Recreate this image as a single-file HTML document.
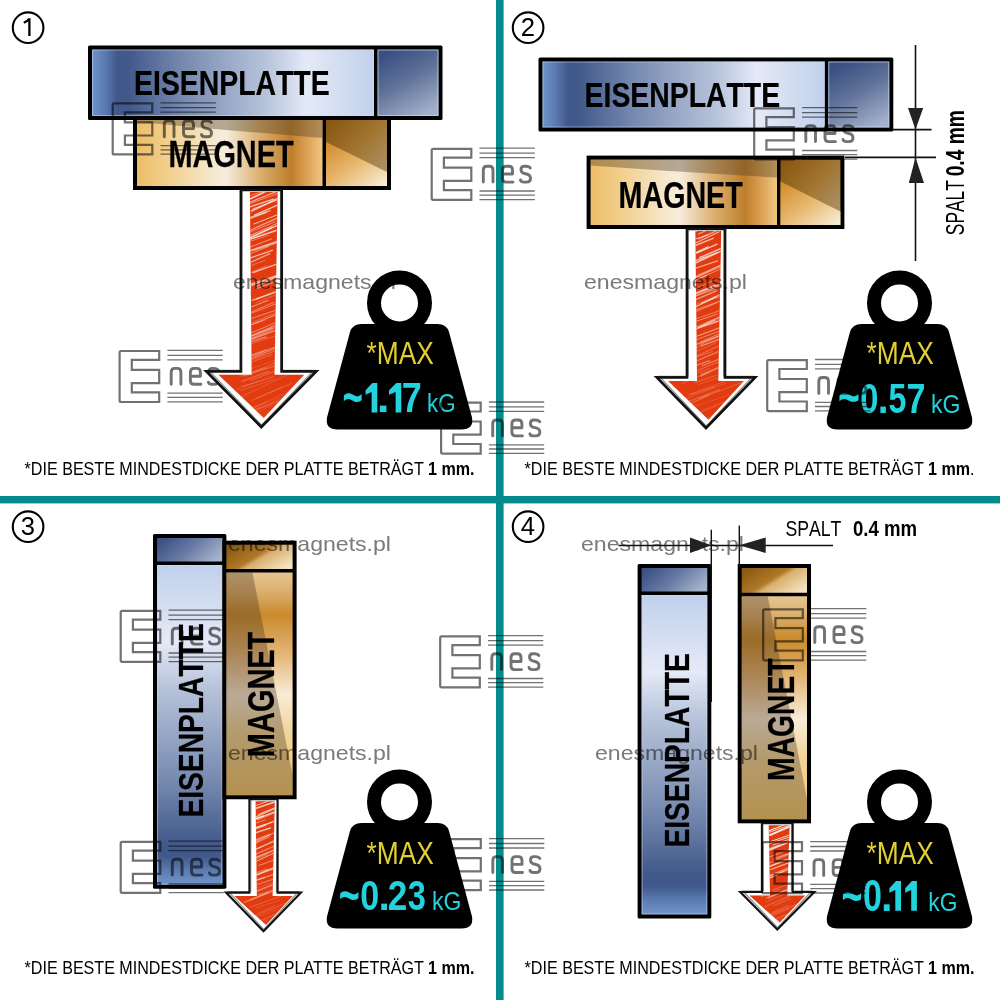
<!DOCTYPE html>
<html><head><meta charset="utf-8"><style>html,body{margin:0;padding:0;background:#fff;}svg{display:block;}</style></head>
<body><svg width="1000" height="1000" viewBox="0 0 1000 1000">
<defs><linearGradient id="plH" x1="0" y1="0" x2="1" y2="0"><stop offset="0" stop-color="#7095cb"/><stop offset="0.045" stop-color="#5b7bb2"/><stop offset="0.09" stop-color="#40588a"/><stop offset="0.13" stop-color="#42598a"/><stop offset="0.32" stop-color="#7589af"/><stop offset="0.62" stop-color="#b8c4db"/><stop offset="0.76" stop-color="#e4eaf7"/><stop offset="0.88" stop-color="#d3ddf0"/><stop offset="1" stop-color="#c0d0ec"/></linearGradient><linearGradient id="plV" x1="0" y1="1" x2="0" y2="0"><stop offset="0" stop-color="#7095cb"/><stop offset="0.045" stop-color="#5b7bb2"/><stop offset="0.09" stop-color="#40588a"/><stop offset="0.13" stop-color="#42598a"/><stop offset="0.32" stop-color="#7589af"/><stop offset="0.62" stop-color="#b8c4db"/><stop offset="0.76" stop-color="#e4eaf7"/><stop offset="0.88" stop-color="#d3ddf0"/><stop offset="1" stop-color="#c0d0ec"/></linearGradient><linearGradient id="peH" x1="0.25" y1="0" x2="0.75" y2="1"><stop offset="0" stop-color="#394f82"/><stop offset="0.45" stop-color="#5f7198"/><stop offset="1" stop-color="#a3b1cb"/></linearGradient><linearGradient id="peV" x1="0" y1="0.3" x2="1" y2="0.7"><stop offset="0" stop-color="#3a5286"/><stop offset="0.5" stop-color="#6a7ca4"/><stop offset="1" stop-color="#a6b4ce"/></linearGradient><linearGradient id="mgH" x1="0" y1="0" x2="1" y2="0"><stop offset="0" stop-color="#ecbd6a"/><stop offset="0.16" stop-color="#f2ce8b"/><stop offset="0.43" stop-color="#f6ead4"/><stop offset="0.48" stop-color="#f7ecdc"/><stop offset="0.66" stop-color="#dcb070"/><stop offset="0.83" stop-color="#be7e2c"/><stop offset="0.9" stop-color="#d79a4c"/><stop offset="1" stop-color="#f1c682"/></linearGradient><linearGradient id="mgV" x1="0" y1="0" x2="0" y2="1"><stop offset="0" stop-color="#e4c690"/><stop offset="0.08" stop-color="#dcb070"/><stop offset="0.19" stop-color="#c98a2c"/><stop offset="0.36" stop-color="#e2b474"/><stop offset="0.55" stop-color="#f8ecd8"/><stop offset="0.72" stop-color="#f0d49a"/><stop offset="1" stop-color="#f0c66a"/></linearGradient><linearGradient id="meH" x1="0" y1="0" x2="1" y2="1"><stop offset="0" stop-color="#86540f"/><stop offset="0.45" stop-color="#a0742e"/><stop offset="1" stop-color="#b09a78"/></linearGradient><linearGradient id="meH2" x1="0" y1="0" x2="1" y2="1"><stop offset="0" stop-color="#d08a28"/><stop offset="0.5" stop-color="#e8b870"/><stop offset="1" stop-color="#faf0dc"/></linearGradient><linearGradient id="meV" x1="0" y1="0.2" x2="1" y2="0.8"><stop offset="0" stop-color="#8a5a14"/><stop offset="0.45" stop-color="#b07828"/><stop offset="0.55" stop-color="#d8b070"/><stop offset="1" stop-color="#f6e4c0"/></linearGradient><pattern id="hatch" width="30" height="9" patternUnits="userSpaceOnUse" patternTransform="rotate(-22)"><rect width="30" height="9" fill="#e23c12"/><line x1="0" y1="1.5" x2="30" y2="1.5" stroke="#fff" stroke-opacity="0.6" stroke-width="1.3"/><line x1="4" y1="5.5" x2="22" y2="5.5" stroke="#fff" stroke-opacity="0.35" stroke-width="0.8"/></pattern></defs>
<rect x="0.00" y="0.00" width="1000.00" height="1000.00" fill="#fff"/>
<rect x="496.00" y="0.00" width="7.60" height="1000.00" fill="#048b8b"/>
<rect x="0.00" y="496.00" width="1000.00" height="7.40" fill="#048b8b"/>
<circle cx="28.1" cy="27.7" r="15.3" fill="none" stroke="#000" stroke-width="2.1"/><path d="M29.4,36 V18.3 M29.4,18.6 Q27.5,21.3 23.8,22.8" fill="none" stroke="#000" stroke-width="2.3"/>
<circle cx="528.1" cy="27.7" r="15.3" fill="none" stroke="#000" stroke-width="2.1"/><text x="527.9" y="35.9" font-family="Liberation Sans" font-size="25.6" font-weight="normal" fill="#000" text-anchor="middle">2</text>
<circle cx="28.1" cy="526.7" r="15.3" fill="none" stroke="#000" stroke-width="2.1"/><text x="27.9" y="534.9" font-family="Liberation Sans" font-size="25.6" font-weight="normal" fill="#000" text-anchor="middle">3</text>
<circle cx="528.1" cy="526.7" r="15.3" fill="none" stroke="#000" stroke-width="2.1"/><text x="527.9" y="534.9" font-family="Liberation Sans" font-size="25.6" font-weight="normal" fill="#000" text-anchor="middle">4</text>
<rect x="88.00" y="45.50" width="354.50" height="74.50" fill="#000" rx="1.5"/><rect x="92.00" y="49.50" width="282.00" height="66.50" fill="url(#plH)"/><rect x="377.50" y="49.50" width="61.00" height="66.50" fill="url(#peH)"/><rect x="378.00" y="50.00" width="60.00" height="65.50" fill="none" stroke="#c9d8f2" stroke-opacity="0.7" stroke-width="1"/><rect x="92.50" y="50.00" width="281.00" height="65.50" fill="none" stroke="#d0ddf5" stroke-opacity="0.5" stroke-width="1"/>
<rect x="133.00" y="116.00" width="258.00" height="74.00" fill="#000"/><rect x="137.00" y="120.00" width="185.50" height="66.00" fill="url(#mgH)"/><polygon points="137,120 322.5,120 322.5,138 212,128.72 137,122" fill="#4a3a22" fill-opacity="0.38"/><rect x="326.00" y="120.00" width="61.00" height="66.00" fill="url(#meH)"/><polygon points="326.0,142 387,172 387,186 326.0,186" fill="url(#meH2)"/>
<rect x="538.50" y="57.50" width="354.80" height="74.00" fill="#000" rx="1.5"/><rect x="542.50" y="61.50" width="282.25" height="66.00" fill="url(#plH)"/><rect x="828.25" y="61.50" width="61.05" height="66.00" fill="url(#peH)"/><rect x="828.75" y="62.00" width="60.05" height="65.00" fill="none" stroke="#c9d8f2" stroke-opacity="0.7" stroke-width="1"/><rect x="543.00" y="62.00" width="281.25" height="65.00" fill="none" stroke="#d0ddf5" stroke-opacity="0.5" stroke-width="1"/>
<rect x="586.60" y="155.60" width="257.80" height="73.40" fill="#000"/><rect x="590.60" y="159.60" width="186.40" height="65.40" fill="url(#mgH)"/><polygon points="590.6,159.6 777.0,159.6 777.0,177.6 665.6,170.64 590.6,165.6" fill="#4a3a22" fill-opacity="0.38"/><rect x="780.50" y="159.60" width="59.90" height="65.40" fill="url(#meH)"/><polygon points="780.5,181.6 840.4,211.6 840.4,225 780.5,225" fill="url(#meH2)"/>
<rect x="153.00" y="534.00" width="73.40" height="354.75" fill="#000" rx="1.5"/><rect x="157.00" y="538.00" width="65.40" height="23.50" fill="url(#peV)"/><rect x="157.00" y="565.00" width="65.40" height="319.75" fill="url(#plV)"/><rect x="157.50" y="565.50" width="64.40" height="318.75" fill="none" stroke="#d0ddf5" stroke-opacity="0.5" stroke-width="1"/>
<rect x="222.40" y="540.70" width="74.20" height="258.55" fill="#000"/><rect x="226.40" y="572.50" width="66.20" height="222.75" fill="url(#mgV)"/><polygon points="226.4,572.5 252.4,572.5 292.6,775.25 292.6,795.25 226.4,795.25" fill="#4a3520" fill-opacity="0.36"/><rect x="226.40" y="544.70" width="66.20" height="24.30" fill="url(#meV)"/>
<rect x="637.60" y="564.00" width="73.70" height="354.40" fill="#000" rx="1.5"/><rect x="641.60" y="568.00" width="65.70" height="23.50" fill="url(#peV)"/><rect x="641.60" y="595.00" width="65.70" height="319.40" fill="url(#plV)"/><rect x="642.10" y="595.50" width="64.70" height="318.40" fill="none" stroke="#d0ddf5" stroke-opacity="0.5" stroke-width="1"/>
<rect x="737.70" y="564.00" width="73.30" height="259.30" fill="#000"/><rect x="741.70" y="596.25" width="65.30" height="223.05" fill="url(#mgV)"/><polygon points="741.7,596.25 767.7,596.25 807,799.3 807,819.3 741.7,819.3" fill="#4a3520" fill-opacity="0.36"/><rect x="741.70" y="568.00" width="65.30" height="24.75" fill="url(#meV)"/>
<g transform="translate(118.9,350.2)" fill="none" stroke="#727272" style="mix-blend-mode:multiply"><path d="M0.7,2.3 Q0.7,0.8 2.2,0.8 H40.3 V9.7 H12.9 V19.7 H40.3 V32.9 H12.9 V42.2 H40.3 V51.8 H2.2 Q0.7,51.8 0.7,50.3 Z" stroke-width="2.2"/><line x1="48.5" y1="0.2" x2="103.8" y2="0.2" stroke-width="1.3"/><line x1="48.5" y1="5.1" x2="103.8" y2="5.1" stroke-width="1.3"/><line x1="48.5" y1="9.6" x2="103.8" y2="9.6" stroke-width="1.3"/><line x1="48.5" y1="43.0" x2="103.8" y2="43.0" stroke-width="1.3"/><line x1="48.5" y1="47.2" x2="103.8" y2="47.2" stroke-width="1.3"/><line x1="48.5" y1="51.6" x2="103.8" y2="51.6" stroke-width="1.3"/><path d="M52.3,34.1 V22 Q52.3,18.2 56,18.2 H58.3 Q62,18.2 62,22 V34.1" stroke-width="2.9" stroke-linecap="round"/><path d="M82,34.1 H75 Q71.5,34.1 71.5,30.5 V22 Q71.5,18.2 75.3,18.2 H77.8 Q81.5,18.2 81.5,22 V26 H71.5" stroke-width="2.9" stroke-linecap="round" stroke-linejoin="round"/><path d="M99.3,20 Q98.3,18.2 95,18.2 H93.3 Q90,18.2 90,21.6 Q90,25.2 94.5,25.8 Q99.5,26.5 99.5,30.3 Q99.5,34.1 95.3,34.1 H93 Q90,34.1 89.5,32" stroke-width="2.9" stroke-linecap="round" stroke-linejoin="round"/></g>
<g transform="translate(134.102,94.5) scale(0.7971,1)"><text x="0" y="0" font-family="Liberation Sans" font-size="35.6" font-weight="bold" fill="#000" style="font-kerning:none" stroke="#000" stroke-width="0.25">EISENPLATTE</text></g>
<g transform="translate(168.466,166.8) scale(0.7963,1)"><text x="0" y="0" font-family="Liberation Sans" font-size="36.3" font-weight="bold" fill="#000" style="font-kerning:none" stroke="#000" stroke-width="0.25">MAGNET</text></g>
<g transform="translate(584.602,107) scale(0.7971,1)"><text x="0" y="0" font-family="Liberation Sans" font-size="35.6" font-weight="bold" fill="#000" style="font-kerning:none" stroke="#000" stroke-width="0.25">EISENPLATTE</text></g>
<g transform="translate(618.582,208) scale(0.7898,1)"><text x="0" y="0" font-family="Liberation Sans" font-size="36.3" font-weight="bold" fill="#000" style="font-kerning:none" stroke="#000" stroke-width="0.25">MAGNET</text></g>
<g transform="translate(203,815.7) rotate(-90) translate(-1.887,0) scale(0.7925,1)"><text x="0" y="0" font-family="Liberation Sans" font-size="35.6" font-weight="bold" fill="#000" style="font-kerning:none" stroke="#000" stroke-width="0.25">EISENPLATTE</text></g>
<g transform="translate(274.4,755.2) rotate(-90) translate(-1.937,0) scale(0.7976,1)"><text x="0" y="0" font-family="Liberation Sans" font-size="36.3" font-weight="bold" fill="#000" style="font-kerning:none" stroke="#000" stroke-width="0.25">MAGNET</text></g>
<g transform="translate(688.5,845.7) rotate(-90) translate(-1.887,0) scale(0.7925,1)"><text x="0" y="0" font-family="Liberation Sans" font-size="35.6" font-weight="bold" fill="#000" style="font-kerning:none" stroke="#000" stroke-width="0.25">EISENPLATTE</text></g>
<g transform="translate(794.1,779) rotate(-90) translate(-1.891,0) scale(0.7788,1)"><text x="0" y="0" font-family="Liberation Sans" font-size="36.3" font-weight="bold" fill="#000" style="font-kerning:none" stroke="#000" stroke-width="0.25">MAGNET</text></g>
<polygon points="240.9,190 281.7,190 281.7,371.3 316.3,371.3 261.3,427 206.3,371.3 240.9,371.3" fill="#fff" stroke="#111" stroke-width="2.7" stroke-linejoin="miter"/><polyline points="242.02383276483317,190 241.55084917392452,370.1 208.8,370.3 261.6,425.2 313.8,370.3 280.95093447303987,370.1 280.4724362866675,190" fill="none" stroke="#222" stroke-width="1.1" stroke-opacity="0.55"/><clipPath id="ac1"><polygon points="249.876,192 277.6608,192 274.5192,374.8 304.18240000000003,374.8 263.8,418.024 218.41760000000002,374.8 251.6712,374.8"/></clipPath><polygon points="249.876,192 277.6608,192 274.5192,374.8 304.18240000000003,374.8 263.8,418.024 218.41760000000002,374.8 251.6712,374.8" fill="#e23b10"/><g clip-path="url(#ac1)" stroke="#fff" stroke-linecap="round"><line x1="237.1" y1="191.4" x2="272.0" y2="180.0" stroke-width="0.97" stroke-opacity="0.76"/><line x1="245.0" y1="197.5" x2="289.0" y2="182.6" stroke-width="0.69" stroke-opacity="0.58"/><line x1="248.2" y1="199.8" x2="279.9" y2="184.6" stroke-width="1.55" stroke-opacity="0.78"/><line x1="239.0" y1="195.0" x2="262.7" y2="186.3" stroke-width="0.89" stroke-opacity="0.86"/><line x1="249.5" y1="202.5" x2="280.6" y2="189.8" stroke-width="1.18" stroke-opacity="0.61"/><line x1="250.4" y1="203.5" x2="283.0" y2="191.5" stroke-width="0.81" stroke-opacity="0.56"/><line x1="252.8" y1="208.9" x2="293.2" y2="194.4" stroke-width="0.90" stroke-opacity="0.69"/><line x1="251.5" y1="211.0" x2="280.1" y2="197.4" stroke-width="1.48" stroke-opacity="0.71"/><line x1="239.1" y1="210.4" x2="273.5" y2="199.2" stroke-width="1.36" stroke-opacity="0.67"/><line x1="254.6" y1="215.0" x2="283.9" y2="202.3" stroke-width="1.17" stroke-opacity="0.78"/><line x1="253.8" y1="224.1" x2="301.2" y2="205.3" stroke-width="1.06" stroke-opacity="0.70"/><line x1="249.7" y1="230.5" x2="298.5" y2="208.5" stroke-width="1.30" stroke-opacity="0.52"/><line x1="236.4" y1="222.3" x2="270.0" y2="210.7" stroke-width="1.27" stroke-opacity="0.62"/><line x1="238.7" y1="223.0" x2="266.1" y2="212.5" stroke-width="1.37" stroke-opacity="0.51"/><line x1="247.6" y1="236.7" x2="293.2" y2="216.2" stroke-width="1.05" stroke-opacity="0.51"/><line x1="243.5" y1="241.4" x2="289.2" y2="219.8" stroke-width="1.02" stroke-opacity="0.56"/><line x1="240.9" y1="235.9" x2="275.1" y2="221.7" stroke-width="0.83" stroke-opacity="0.53"/><line x1="243.8" y1="241.1" x2="280.3" y2="223.8" stroke-width="1.02" stroke-opacity="0.47"/><line x1="250.3" y1="237.3" x2="272.3" y2="227.1" stroke-width="1.22" stroke-opacity="0.62"/><line x1="244.3" y1="241.2" x2="276.1" y2="230.5" stroke-width="1.40" stroke-opacity="0.72"/><line x1="240.4" y1="243.0" x2="265.4" y2="233.6" stroke-width="0.67" stroke-opacity="0.46"/><line x1="238.1" y1="245.2" x2="268.8" y2="235.2" stroke-width="0.75" stroke-opacity="0.44"/><line x1="241.3" y1="250.4" x2="271.6" y2="238.9" stroke-width="0.75" stroke-opacity="0.61"/><line x1="245.8" y1="252.2" x2="280.1" y2="240.7" stroke-width="1.59" stroke-opacity="0.67"/><line x1="253.6" y1="250.6" x2="278.6" y2="242.5" stroke-width="0.86" stroke-opacity="0.52"/><line x1="247.5" y1="254.9" x2="268.7" y2="246.4" stroke-width="0.75" stroke-opacity="0.57"/><line x1="241.5" y1="261.0" x2="272.3" y2="250.3" stroke-width="1.30" stroke-opacity="0.65"/><line x1="242.9" y1="265.8" x2="269.7" y2="253.7" stroke-width="1.38" stroke-opacity="0.55"/><line x1="253.3" y1="272.5" x2="294.9" y2="257.7" stroke-width="1.41" stroke-opacity="0.62"/><line x1="236.5" y1="270.8" x2="264.9" y2="260.5" stroke-width="0.63" stroke-opacity="0.48"/><line x1="255.9" y1="286.7" x2="304.5" y2="263.7" stroke-width="1.05" stroke-opacity="0.62"/><line x1="240.1" y1="277.2" x2="266.3" y2="266.1" stroke-width="0.83" stroke-opacity="0.43"/><line x1="249.8" y1="284.3" x2="293.1" y2="269.9" stroke-width="1.08" stroke-opacity="0.57"/><line x1="251.9" y1="284.9" x2="285.9" y2="273.0" stroke-width="1.38" stroke-opacity="0.58"/><line x1="256.6" y1="288.7" x2="288.3" y2="276.5" stroke-width="1.40" stroke-opacity="0.43"/><line x1="238.6" y1="291.9" x2="263.3" y2="280.4" stroke-width="0.77" stroke-opacity="0.51"/><line x1="256.8" y1="298.6" x2="296.0" y2="283.9" stroke-width="1.43" stroke-opacity="0.37"/><line x1="256.6" y1="302.5" x2="295.6" y2="286.8" stroke-width="0.61" stroke-opacity="0.36"/><line x1="253.5" y1="300.1" x2="279.9" y2="290.6" stroke-width="1.47" stroke-opacity="0.42"/><line x1="241.4" y1="303.9" x2="273.8" y2="292.8" stroke-width="1.19" stroke-opacity="0.37"/><line x1="248.3" y1="314.5" x2="294.6" y2="296.6" stroke-width="1.06" stroke-opacity="0.38"/><line x1="247.1" y1="308.6" x2="268.0" y2="300.4" stroke-width="1.13" stroke-opacity="0.40"/><line x1="239.6" y1="317.2" x2="273.5" y2="302.4" stroke-width="1.40" stroke-opacity="0.30"/><line x1="247.7" y1="319.7" x2="290.5" y2="305.3" stroke-width="1.12" stroke-opacity="0.36"/><line x1="252.4" y1="322.5" x2="287.3" y2="308.2" stroke-width="0.88" stroke-opacity="0.33"/><line x1="249.0" y1="325.6" x2="283.8" y2="311.6" stroke-width="1.04" stroke-opacity="0.45"/><line x1="246.1" y1="335.2" x2="293.4" y2="314.8" stroke-width="1.13" stroke-opacity="0.35"/><line x1="247.8" y1="340.0" x2="295.2" y2="318.5" stroke-width="0.86" stroke-opacity="0.43"/><line x1="237.4" y1="329.4" x2="264.7" y2="320.3" stroke-width="1.04" stroke-opacity="0.28"/><line x1="239.2" y1="340.9" x2="280.0" y2="323.5" stroke-width="1.50" stroke-opacity="0.38"/><line x1="240.6" y1="343.6" x2="288.2" y2="325.4" stroke-width="1.57" stroke-opacity="0.40"/><line x1="239.3" y1="341.2" x2="272.1" y2="328.1" stroke-width="1.43" stroke-opacity="0.40"/><line x1="251.3" y1="339.0" x2="272.3" y2="330.4" stroke-width="0.92" stroke-opacity="0.27"/><line x1="249.2" y1="344.6" x2="284.2" y2="333.0" stroke-width="0.93" stroke-opacity="0.24"/><line x1="238.1" y1="346.1" x2="266.1" y2="337.0" stroke-width="1.57" stroke-opacity="0.34"/><line x1="244.9" y1="361.4" x2="291.3" y2="340.4" stroke-width="0.73" stroke-opacity="0.26"/><line x1="248.1" y1="356.1" x2="288.5" y2="342.6" stroke-width="1.52" stroke-opacity="0.23"/><line x1="237.4" y1="364.1" x2="284.6" y2="344.2" stroke-width="1.03" stroke-opacity="0.30"/><line x1="237.3" y1="365.4" x2="282.4" y2="347.7" stroke-width="1.46" stroke-opacity="0.21"/><line x1="241.6" y1="359.8" x2="265.7" y2="350.1" stroke-width="1.53" stroke-opacity="0.27"/><line x1="237.0" y1="361.8" x2="263.1" y2="352.2" stroke-width="0.76" stroke-opacity="0.20"/><line x1="246.6" y1="364.0" x2="272.0" y2="354.4" stroke-width="0.89" stroke-opacity="0.28"/><line x1="251.5" y1="368.6" x2="287.7" y2="356.0" stroke-width="0.62" stroke-opacity="0.21"/><line x1="253.4" y1="371.7" x2="286.1" y2="358.7" stroke-width="0.71" stroke-opacity="0.29"/><line x1="250.6" y1="380.4" x2="299.0" y2="362.2" stroke-width="1.11" stroke-opacity="0.21"/><line x1="244.5" y1="375.8" x2="274.9" y2="365.8" stroke-width="1.24" stroke-opacity="0.24"/><line x1="241.3" y1="376.0" x2="266.4" y2="367.7" stroke-width="1.34" stroke-opacity="0.17"/><line x1="241.9" y1="381.3" x2="269.2" y2="371.3" stroke-width="1.27" stroke-opacity="0.24"/><line x1="241.5" y1="396.7" x2="289.4" y2="373.9" stroke-width="1.05" stroke-opacity="0.16"/><line x1="242.5" y1="386.6" x2="273.1" y2="376.8" stroke-width="1.57" stroke-opacity="0.16"/><line x1="240.2" y1="390.4" x2="275.0" y2="379.2" stroke-width="1.10" stroke-opacity="0.17"/><line x1="236.8" y1="389.1" x2="257.8" y2="381.4" stroke-width="1.00" stroke-opacity="0.14"/><line x1="251.9" y1="400.5" x2="291.1" y2="383.5" stroke-width="1.13" stroke-opacity="0.17"/><line x1="256.9" y1="397.9" x2="281.6" y2="387.2" stroke-width="0.93" stroke-opacity="0.15"/><line x1="254.9" y1="407.0" x2="293.2" y2="390.3" stroke-width="1.44" stroke-opacity="0.11"/><line x1="246.7" y1="413.7" x2="290.9" y2="393.8" stroke-width="1.12" stroke-opacity="0.11"/><line x1="250.5" y1="411.7" x2="290.7" y2="397.4" stroke-width="1.49" stroke-opacity="0.13"/><line x1="238.1" y1="417.1" x2="282.4" y2="399.0" stroke-width="0.96" stroke-opacity="0.10"/><line x1="246.3" y1="411.2" x2="266.8" y2="402.0" stroke-width="1.28" stroke-opacity="0.12"/><line x1="250.0" y1="415.1" x2="272.2" y2="405.4" stroke-width="1.14" stroke-opacity="0.10"/><line x1="251.4" y1="419.0" x2="277.7" y2="407.5" stroke-width="0.87" stroke-opacity="0.08"/><line x1="246.1" y1="429.1" x2="286.0" y2="411.5" stroke-width="0.98" stroke-opacity="0.10"/><line x1="239.0" y1="426.6" x2="266.7" y2="414.5" stroke-width="0.68" stroke-opacity="0.10"/><line x1="237.2" y1="428.8" x2="265.3" y2="416.8" stroke-width="0.61" stroke-opacity="0.10"/><line x1="246.9" y1="433.3" x2="280.6" y2="420.0" stroke-width="0.89" stroke-opacity="0.10"/><line x1="256.8" y1="437.0" x2="303.9" y2="421.8" stroke-width="0.80" stroke-opacity="0.11"/><line x1="245.5" y1="434.4" x2="273.6" y2="424.4" stroke-width="1.57" stroke-opacity="0.11"/></g>
<polygon points="687.0,229 725.0,229 725.0,377.4 755.2,377.4 706,428 656.8,377.4 687.0,377.4" fill="#fff" stroke="#111" stroke-width="2.7" stroke-linejoin="miter"/><polyline points="688.0107087975339,229 688.0814723677211,376.2 659.3,376.4 706.3,426.2 752.7,376.4 723.7417406778595,376.2 724.2240657125549,229" fill="none" stroke="#222" stroke-width="1.1" stroke-opacity="0.55"/><clipPath id="ac2"><polygon points="695.36,231 721.238,231 718.312,380.9 743.9140000000001,380.9 708.5,419.64 668.0859999999999,380.9 697.032,380.9"/></clipPath><polygon points="695.36,231 721.238,231 718.312,380.9 743.9140000000001,380.9 708.5,419.64 668.0859999999999,380.9 697.032,380.9" fill="#e23b10"/><g clip-path="url(#ac2)" stroke="#fff" stroke-linecap="round"><line x1="698.6" y1="234.0" x2="731.1" y2="219.0" stroke-width="0.73" stroke-opacity="0.92"/><line x1="691.8" y1="228.6" x2="711.5" y2="222.3" stroke-width="1.50" stroke-opacity="0.64"/><line x1="684.8" y1="235.4" x2="713.0" y2="225.0" stroke-width="0.90" stroke-opacity="0.72"/><line x1="699.0" y1="239.0" x2="721.1" y2="228.6" stroke-width="1.35" stroke-opacity="0.54"/><line x1="689.5" y1="246.0" x2="719.0" y2="231.9" stroke-width="0.89" stroke-opacity="0.85"/><line x1="687.6" y1="241.7" x2="707.8" y2="234.8" stroke-width="1.03" stroke-opacity="0.65"/><line x1="687.0" y1="248.9" x2="713.1" y2="238.4" stroke-width="1.54" stroke-opacity="0.61"/><line x1="699.9" y1="257.5" x2="740.5" y2="240.4" stroke-width="1.56" stroke-opacity="0.64"/><line x1="696.5" y1="253.1" x2="716.9" y2="244.2" stroke-width="1.15" stroke-opacity="0.82"/><line x1="687.8" y1="256.3" x2="708.1" y2="246.8" stroke-width="1.24" stroke-opacity="0.74"/><line x1="688.0" y1="267.0" x2="726.7" y2="248.6" stroke-width="0.94" stroke-opacity="0.64"/><line x1="693.3" y1="261.0" x2="722.7" y2="250.8" stroke-width="0.90" stroke-opacity="0.70"/><line x1="692.0" y1="264.2" x2="716.9" y2="252.7" stroke-width="1.51" stroke-opacity="0.55"/><line x1="685.9" y1="264.7" x2="707.3" y2="256.7" stroke-width="0.74" stroke-opacity="0.61"/><line x1="693.5" y1="277.1" x2="736.1" y2="258.4" stroke-width="0.86" stroke-opacity="0.54"/><line x1="689.6" y1="270.2" x2="717.6" y2="260.9" stroke-width="1.12" stroke-opacity="0.58"/><line x1="692.2" y1="279.5" x2="727.9" y2="263.1" stroke-width="0.73" stroke-opacity="0.74"/><line x1="690.1" y1="279.8" x2="720.9" y2="265.2" stroke-width="0.85" stroke-opacity="0.53"/><line x1="682.7" y1="286.3" x2="720.5" y2="268.8" stroke-width="0.62" stroke-opacity="0.69"/><line x1="689.9" y1="291.2" x2="733.6" y2="271.5" stroke-width="0.60" stroke-opacity="0.60"/><line x1="684.2" y1="284.4" x2="707.3" y2="275.1" stroke-width="0.85" stroke-opacity="0.70"/><line x1="695.1" y1="293.8" x2="734.4" y2="278.3" stroke-width="1.32" stroke-opacity="0.67"/><line x1="686.7" y1="299.6" x2="730.2" y2="281.2" stroke-width="1.38" stroke-opacity="0.42"/><line x1="694.9" y1="296.2" x2="732.4" y2="283.5" stroke-width="0.85" stroke-opacity="0.43"/><line x1="689.8" y1="295.5" x2="714.8" y2="285.1" stroke-width="1.18" stroke-opacity="0.53"/><line x1="701.4" y1="303.3" x2="737.5" y2="286.7" stroke-width="1.06" stroke-opacity="0.47"/><line x1="701.4" y1="303.3" x2="739.1" y2="289.4" stroke-width="0.85" stroke-opacity="0.45"/><line x1="690.5" y1="301.9" x2="716.3" y2="290.9" stroke-width="1.27" stroke-opacity="0.51"/><line x1="688.8" y1="307.7" x2="719.0" y2="294.7" stroke-width="0.63" stroke-opacity="0.43"/><line x1="692.2" y1="308.3" x2="716.7" y2="296.7" stroke-width="1.34" stroke-opacity="0.56"/><line x1="686.5" y1="313.4" x2="725.7" y2="299.0" stroke-width="0.83" stroke-opacity="0.56"/><line x1="686.5" y1="315.7" x2="716.6" y2="302.9" stroke-width="0.79" stroke-opacity="0.47"/><line x1="686.3" y1="322.1" x2="731.2" y2="306.7" stroke-width="0.99" stroke-opacity="0.37"/><line x1="700.1" y1="327.0" x2="742.6" y2="308.4" stroke-width="0.99" stroke-opacity="0.35"/><line x1="685.7" y1="331.7" x2="729.6" y2="312.4" stroke-width="0.93" stroke-opacity="0.53"/><line x1="689.6" y1="323.6" x2="717.4" y2="313.9" stroke-width="0.98" stroke-opacity="0.47"/><line x1="701.3" y1="326.0" x2="723.6" y2="315.5" stroke-width="0.95" stroke-opacity="0.38"/><line x1="698.6" y1="327.5" x2="729.1" y2="317.5" stroke-width="1.42" stroke-opacity="0.39"/><line x1="685.9" y1="333.5" x2="714.6" y2="320.2" stroke-width="1.52" stroke-opacity="0.38"/><line x1="697.5" y1="328.3" x2="717.6" y2="321.7" stroke-width="1.41" stroke-opacity="0.39"/><line x1="697.1" y1="339.4" x2="740.0" y2="323.4" stroke-width="0.86" stroke-opacity="0.48"/><line x1="687.3" y1="339.7" x2="725.4" y2="325.6" stroke-width="1.22" stroke-opacity="0.48"/><line x1="700.5" y1="344.6" x2="736.4" y2="327.8" stroke-width="1.36" stroke-opacity="0.29"/><line x1="701.3" y1="346.3" x2="745.7" y2="329.3" stroke-width="1.08" stroke-opacity="0.33"/><line x1="700.7" y1="342.1" x2="724.6" y2="331.4" stroke-width="1.09" stroke-opacity="0.36"/><line x1="694.3" y1="345.1" x2="722.0" y2="334.8" stroke-width="1.37" stroke-opacity="0.42"/><line x1="686.0" y1="351.2" x2="725.0" y2="337.2" stroke-width="0.68" stroke-opacity="0.40"/><line x1="688.6" y1="359.7" x2="733.7" y2="338.9" stroke-width="1.15" stroke-opacity="0.26"/><line x1="683.9" y1="356.8" x2="716.2" y2="342.8" stroke-width="0.68" stroke-opacity="0.29"/><line x1="694.5" y1="361.7" x2="731.5" y2="345.4" stroke-width="1.02" stroke-opacity="0.28"/><line x1="699.0" y1="360.1" x2="725.8" y2="349.1" stroke-width="0.72" stroke-opacity="0.34"/><line x1="687.0" y1="360.3" x2="712.5" y2="351.5" stroke-width="0.80" stroke-opacity="0.34"/><line x1="690.0" y1="373.4" x2="735.4" y2="355.2" stroke-width="0.93" stroke-opacity="0.30"/><line x1="702.0" y1="365.9" x2="723.7" y2="357.3" stroke-width="1.25" stroke-opacity="0.33"/><line x1="682.8" y1="369.9" x2="709.6" y2="360.8" stroke-width="1.51" stroke-opacity="0.32"/><line x1="700.8" y1="376.1" x2="729.7" y2="362.8" stroke-width="1.18" stroke-opacity="0.32"/><line x1="701.1" y1="374.5" x2="722.9" y2="365.4" stroke-width="1.38" stroke-opacity="0.22"/><line x1="684.9" y1="377.3" x2="709.3" y2="368.5" stroke-width="0.97" stroke-opacity="0.21"/><line x1="682.2" y1="383.4" x2="709.9" y2="371.5" stroke-width="0.80" stroke-opacity="0.25"/><line x1="698.1" y1="384.5" x2="731.6" y2="373.4" stroke-width="0.80" stroke-opacity="0.21"/><line x1="694.9" y1="382.6" x2="716.3" y2="375.2" stroke-width="1.15" stroke-opacity="0.21"/><line x1="688.2" y1="394.8" x2="732.6" y2="378.4" stroke-width="0.88" stroke-opacity="0.20"/><line x1="699.5" y1="398.6" x2="745.0" y2="381.3" stroke-width="1.02" stroke-opacity="0.19"/><line x1="682.1" y1="400.0" x2="725.1" y2="383.3" stroke-width="0.80" stroke-opacity="0.21"/><line x1="691.3" y1="394.4" x2="714.6" y2="386.9" stroke-width="1.48" stroke-opacity="0.17"/><line x1="683.8" y1="403.3" x2="719.3" y2="389.8" stroke-width="1.51" stroke-opacity="0.18"/><line x1="692.5" y1="407.3" x2="736.1" y2="392.5" stroke-width="0.88" stroke-opacity="0.13"/><line x1="686.0" y1="405.8" x2="708.4" y2="395.3" stroke-width="1.57" stroke-opacity="0.18"/><line x1="700.7" y1="412.8" x2="730.0" y2="399.2" stroke-width="0.65" stroke-opacity="0.14"/><line x1="697.9" y1="411.8" x2="722.8" y2="402.2" stroke-width="0.76" stroke-opacity="0.15"/><line x1="686.4" y1="417.8" x2="716.0" y2="405.9" stroke-width="0.78" stroke-opacity="0.13"/><line x1="696.6" y1="422.3" x2="739.5" y2="408.3" stroke-width="0.85" stroke-opacity="0.09"/><line x1="698.9" y1="420.4" x2="721.1" y2="411.2" stroke-width="0.64" stroke-opacity="0.11"/><line x1="690.5" y1="427.5" x2="725.0" y2="414.1" stroke-width="0.91" stroke-opacity="0.10"/><line x1="682.5" y1="431.4" x2="717.9" y2="417.3" stroke-width="1.04" stroke-opacity="0.09"/><line x1="691.3" y1="428.7" x2="715.0" y2="419.3" stroke-width="1.38" stroke-opacity="0.11"/><line x1="683.9" y1="433.5" x2="714.6" y2="421.1" stroke-width="1.03" stroke-opacity="0.08"/><line x1="696.8" y1="438.7" x2="736.5" y2="422.7" stroke-width="0.68" stroke-opacity="0.10"/><line x1="701.2" y1="434.7" x2="723.8" y2="424.3" stroke-width="0.98" stroke-opacity="0.10"/></g>
<polygon points="249.4,799.25 277.6,799.25 277.6,892.6 301.0,892.6 263.5,931.25 226.0,892.6 249.4,892.6" fill="#fff" stroke="#111" stroke-width="2.1" stroke-linejoin="miter"/><polyline points="250.93208439121062,799.25 250.7149894484102,891.4 228.5,891.6 263.8,929.45 298.5,891.6 276.39370730319337,891.4 277.28172809098436,799.25" fill="none" stroke="#222" stroke-width="1.1" stroke-opacity="0.55"/><clipPath id="ac3"><polygon points="255.604,801.25 274.8082,801.25 272.6368,896.1 292.6246,896.1 266.0,925.046 234.3754,896.1 256.8448,896.1"/></clipPath><polygon points="255.604,801.25 274.8082,801.25 272.6368,896.1 292.6246,896.1 266.0,925.046 234.3754,896.1 256.8448,896.1" fill="#e23b10"/><g clip-path="url(#ac3)" stroke="#fff" stroke-linecap="round"><line x1="259.3" y1="797.0" x2="276.7" y2="789.2" stroke-width="1.56" stroke-opacity="0.77"/><line x1="256.7" y1="801.1" x2="273.9" y2="793.1" stroke-width="0.95" stroke-opacity="0.59"/><line x1="252.6" y1="806.7" x2="284.8" y2="795.3" stroke-width="0.74" stroke-opacity="0.86"/><line x1="245.0" y1="803.5" x2="262.7" y2="797.4" stroke-width="0.92" stroke-opacity="0.73"/><line x1="247.1" y1="811.3" x2="276.7" y2="801.3" stroke-width="1.50" stroke-opacity="0.77"/><line x1="258.6" y1="814.4" x2="283.7" y2="804.1" stroke-width="0.96" stroke-opacity="0.74"/><line x1="254.7" y1="817.6" x2="276.5" y2="807.8" stroke-width="1.59" stroke-opacity="0.54"/><line x1="250.3" y1="821.4" x2="279.5" y2="810.0" stroke-width="1.18" stroke-opacity="0.83"/><line x1="257.7" y1="820.0" x2="276.9" y2="811.9" stroke-width="0.65" stroke-opacity="0.73"/><line x1="249.5" y1="820.5" x2="263.6" y2="815.9" stroke-width="1.26" stroke-opacity="0.66"/><line x1="252.7" y1="828.6" x2="284.5" y2="817.7" stroke-width="1.03" stroke-opacity="0.66"/><line x1="244.4" y1="826.9" x2="265.5" y2="819.8" stroke-width="0.62" stroke-opacity="0.66"/><line x1="254.0" y1="829.8" x2="272.1" y2="822.2" stroke-width="1.18" stroke-opacity="0.52"/><line x1="248.4" y1="830.6" x2="265.4" y2="824.9" stroke-width="1.54" stroke-opacity="0.48"/><line x1="250.9" y1="834.2" x2="270.3" y2="828.0" stroke-width="1.38" stroke-opacity="0.68"/><line x1="254.9" y1="841.8" x2="277.8" y2="831.1" stroke-width="0.95" stroke-opacity="0.57"/><line x1="245.1" y1="843.9" x2="269.7" y2="834.4" stroke-width="1.50" stroke-opacity="0.47"/><line x1="244.6" y1="848.3" x2="269.6" y2="836.5" stroke-width="1.38" stroke-opacity="0.41"/><line x1="252.7" y1="850.4" x2="279.4" y2="838.4" stroke-width="1.21" stroke-opacity="0.44"/><line x1="245.2" y1="854.4" x2="276.8" y2="840.3" stroke-width="0.90" stroke-opacity="0.46"/><line x1="256.5" y1="853.8" x2="279.8" y2="843.6" stroke-width="1.44" stroke-opacity="0.37"/><line x1="248.2" y1="851.8" x2="263.0" y2="846.2" stroke-width="0.71" stroke-opacity="0.41"/><line x1="256.0" y1="857.5" x2="275.3" y2="849.6" stroke-width="1.45" stroke-opacity="0.51"/><line x1="248.7" y1="864.9" x2="275.5" y2="852.2" stroke-width="1.12" stroke-opacity="0.51"/><line x1="248.6" y1="862.5" x2="267.4" y2="854.2" stroke-width="0.62" stroke-opacity="0.52"/><line x1="258.7" y1="865.5" x2="279.3" y2="858.1" stroke-width="0.93" stroke-opacity="0.47"/><line x1="255.2" y1="875.1" x2="288.7" y2="861.9" stroke-width="1.29" stroke-opacity="0.42"/><line x1="251.5" y1="877.1" x2="279.9" y2="865.5" stroke-width="1.46" stroke-opacity="0.42"/><line x1="245.7" y1="878.7" x2="277.7" y2="867.7" stroke-width="1.22" stroke-opacity="0.31"/><line x1="250.0" y1="874.8" x2="266.9" y2="869.3" stroke-width="1.53" stroke-opacity="0.29"/><line x1="255.7" y1="880.4" x2="284.4" y2="870.9" stroke-width="1.23" stroke-opacity="0.38"/><line x1="257.7" y1="884.4" x2="289.4" y2="873.9" stroke-width="1.42" stroke-opacity="0.31"/><line x1="246.1" y1="883.7" x2="264.3" y2="877.6" stroke-width="1.54" stroke-opacity="0.38"/><line x1="254.7" y1="891.9" x2="285.1" y2="879.1" stroke-width="1.41" stroke-opacity="0.36"/><line x1="256.7" y1="888.1" x2="274.9" y2="881.4" stroke-width="0.70" stroke-opacity="0.24"/><line x1="249.0" y1="894.6" x2="277.2" y2="883.9" stroke-width="0.86" stroke-opacity="0.22"/><line x1="258.3" y1="894.8" x2="284.6" y2="886.2" stroke-width="1.10" stroke-opacity="0.34"/><line x1="250.0" y1="900.1" x2="278.1" y2="888.8" stroke-width="1.37" stroke-opacity="0.25"/><line x1="257.7" y1="896.4" x2="275.2" y2="890.8" stroke-width="0.69" stroke-opacity="0.29"/><line x1="244.5" y1="902.3" x2="268.3" y2="892.8" stroke-width="1.58" stroke-opacity="0.27"/><line x1="250.1" y1="907.3" x2="280.6" y2="896.3" stroke-width="1.09" stroke-opacity="0.19"/><line x1="255.8" y1="908.2" x2="279.7" y2="900.1" stroke-width="0.81" stroke-opacity="0.18"/><line x1="255.7" y1="915.7" x2="285.4" y2="903.2" stroke-width="1.39" stroke-opacity="0.15"/><line x1="258.9" y1="912.9" x2="274.7" y2="905.6" stroke-width="0.99" stroke-opacity="0.16"/><line x1="259.1" y1="916.3" x2="283.1" y2="907.2" stroke-width="0.86" stroke-opacity="0.14"/><line x1="253.1" y1="923.7" x2="282.0" y2="910.9" stroke-width="1.06" stroke-opacity="0.13"/><line x1="246.9" y1="927.1" x2="277.7" y2="914.0" stroke-width="0.93" stroke-opacity="0.12"/><line x1="257.0" y1="926.1" x2="282.5" y2="917.4" stroke-width="1.04" stroke-opacity="0.09"/><line x1="247.5" y1="928.7" x2="267.6" y2="920.0" stroke-width="0.84" stroke-opacity="0.12"/><line x1="248.4" y1="931.9" x2="269.0" y2="923.6" stroke-width="0.76" stroke-opacity="0.08"/><line x1="260.3" y1="935.1" x2="288.8" y2="925.5" stroke-width="0.79" stroke-opacity="0.09"/><line x1="260.4" y1="942.5" x2="290.2" y2="929.4" stroke-width="0.98" stroke-opacity="0.08"/></g>
<polygon points="761.9,823.3 792.6999999999999,823.3 792.6999999999999,892 814.3499999999999,892 777.3,929.4 740.25,892 761.9,892" fill="#fff" stroke="#111" stroke-width="2.1" stroke-linejoin="miter"/><polyline points="762.8961909317171,823.3 763.0379808627919,890.8 742.75,891.0 777.5999999999999,927.6 811.8499999999999,891.0 791.4068697145641,890.8 791.6064439645801,823.3" fill="none" stroke="#222" stroke-width="1.1" stroke-opacity="0.55"/><clipPath id="ac4"><polygon points="768.6759999999999,825.3 789.6507999999999,825.3 787.2792,895.5 805.2023999999999,895.5 779.8,922.624 749.3976,895.5 770.0312,895.5"/></clipPath><polygon points="768.6759999999999,825.3 789.6507999999999,825.3 787.2792,895.5 805.2023999999999,895.5 779.8,922.624 749.3976,895.5 770.0312,895.5" fill="#e23b10"/><g clip-path="url(#ac4)" stroke="#fff" stroke-linecap="round"><line x1="763.8" y1="827.3" x2="796.3" y2="813.3" stroke-width="0.63" stroke-opacity="0.74"/><line x1="759.4" y1="827.0" x2="787.8" y2="816.1" stroke-width="1.06" stroke-opacity="0.82"/><line x1="766.8" y1="831.6" x2="798.4" y2="819.4" stroke-width="1.03" stroke-opacity="0.90"/><line x1="770.3" y1="835.4" x2="800.8" y2="821.5" stroke-width="1.48" stroke-opacity="0.81"/><line x1="762.3" y1="834.4" x2="791.3" y2="824.7" stroke-width="1.05" stroke-opacity="0.76"/><line x1="767.8" y1="835.3" x2="788.6" y2="827.2" stroke-width="1.31" stroke-opacity="0.79"/><line x1="768.6" y1="842.2" x2="804.1" y2="829.9" stroke-width="1.01" stroke-opacity="0.72"/><line x1="765.4" y1="844.9" x2="801.8" y2="833.0" stroke-width="0.99" stroke-opacity="0.75"/><line x1="773.2" y1="844.8" x2="799.8" y2="835.9" stroke-width="1.38" stroke-opacity="0.53"/><line x1="765.8" y1="852.0" x2="795.0" y2="838.8" stroke-width="1.32" stroke-opacity="0.63"/><line x1="760.5" y1="853.1" x2="790.7" y2="841.6" stroke-width="1.55" stroke-opacity="0.58"/><line x1="763.1" y1="851.1" x2="779.7" y2="845.0" stroke-width="1.58" stroke-opacity="0.47"/><line x1="764.2" y1="859.0" x2="794.6" y2="847.5" stroke-width="1.02" stroke-opacity="0.43"/><line x1="773.2" y1="859.2" x2="799.9" y2="849.7" stroke-width="1.34" stroke-opacity="0.48"/><line x1="759.1" y1="867.6" x2="791.3" y2="853.2" stroke-width="0.81" stroke-opacity="0.50"/><line x1="760.8" y1="869.9" x2="797.0" y2="856.3" stroke-width="1.16" stroke-opacity="0.50"/><line x1="765.0" y1="868.2" x2="786.8" y2="859.4" stroke-width="1.42" stroke-opacity="0.57"/><line x1="771.6" y1="869.2" x2="792.8" y2="861.2" stroke-width="0.95" stroke-opacity="0.56"/><line x1="756.9" y1="874.6" x2="787.9" y2="863.3" stroke-width="0.79" stroke-opacity="0.45"/><line x1="764.3" y1="877.8" x2="793.5" y2="865.4" stroke-width="1.08" stroke-opacity="0.41"/><line x1="757.9" y1="883.3" x2="791.1" y2="867.8" stroke-width="1.45" stroke-opacity="0.53"/><line x1="767.9" y1="876.3" x2="783.6" y2="871.3" stroke-width="1.43" stroke-opacity="0.34"/><line x1="758.7" y1="881.8" x2="777.1" y2="875.2" stroke-width="0.85" stroke-opacity="0.42"/><line x1="772.6" y1="889.9" x2="805.0" y2="878.6" stroke-width="0.75" stroke-opacity="0.34"/><line x1="768.5" y1="897.8" x2="803.2" y2="882.3" stroke-width="1.38" stroke-opacity="0.36"/><line x1="766.1" y1="898.2" x2="797.5" y2="885.9" stroke-width="1.29" stroke-opacity="0.27"/><line x1="761.0" y1="897.0" x2="779.4" y2="889.6" stroke-width="0.86" stroke-opacity="0.30"/><line x1="765.4" y1="901.9" x2="791.6" y2="891.3" stroke-width="0.74" stroke-opacity="0.28"/><line x1="765.0" y1="906.7" x2="792.5" y2="894.9" stroke-width="1.44" stroke-opacity="0.20"/><line x1="773.5" y1="905.7" x2="790.6" y2="898.5" stroke-width="1.02" stroke-opacity="0.22"/><line x1="768.7" y1="914.9" x2="804.2" y2="901.6" stroke-width="1.21" stroke-opacity="0.17"/><line x1="772.4" y1="912.6" x2="788.6" y2="905.6" stroke-width="1.08" stroke-opacity="0.19"/><line x1="763.2" y1="919.0" x2="788.9" y2="908.6" stroke-width="1.46" stroke-opacity="0.16"/><line x1="764.2" y1="924.4" x2="791.6" y2="912.1" stroke-width="1.04" stroke-opacity="0.13"/><line x1="765.6" y1="922.8" x2="786.9" y2="914.3" stroke-width="1.00" stroke-opacity="0.16"/><line x1="762.6" y1="926.4" x2="784.9" y2="918.2" stroke-width="1.39" stroke-opacity="0.12"/><line x1="757.6" y1="935.5" x2="788.6" y2="921.2" stroke-width="1.38" stroke-opacity="0.10"/><line x1="757.0" y1="933.2" x2="776.5" y2="924.1" stroke-width="0.90" stroke-opacity="0.07"/><line x1="772.7" y1="939.1" x2="801.2" y2="927.1" stroke-width="1.39" stroke-opacity="0.10"/></g>
<text x="233" y="289" font-family="Liberation Sans" font-size="20.2" font-weight="normal" fill="#7a7a7a" text-anchor="start" textLength="163" lengthAdjust="spacingAndGlyphs" style="mix-blend-mode:multiply">enesmagnets.pl</text>
<text x="584" y="289" font-family="Liberation Sans" font-size="20.2" font-weight="normal" fill="#7a7a7a" text-anchor="start" textLength="163" lengthAdjust="spacingAndGlyphs" style="mix-blend-mode:multiply">enesmagnets.pl</text>
<text x="228" y="550.7" font-family="Liberation Sans" font-size="20.2" font-weight="normal" fill="#7a7a7a" text-anchor="start" textLength="163" lengthAdjust="spacingAndGlyphs" style="mix-blend-mode:multiply">enesmagnets.pl</text>
<text x="228" y="759.6" font-family="Liberation Sans" font-size="20.2" font-weight="normal" fill="#7a7a7a" text-anchor="start" textLength="163" lengthAdjust="spacingAndGlyphs" style="mix-blend-mode:multiply">enesmagnets.pl</text>
<text x="581" y="550.7" font-family="Liberation Sans" font-size="20.2" font-weight="normal" fill="#7a7a7a" text-anchor="start" textLength="163" lengthAdjust="spacingAndGlyphs" style="mix-blend-mode:multiply">enesmagnets.pl</text>
<text x="595" y="759.6" font-family="Liberation Sans" font-size="20.2" font-weight="normal" fill="#7a7a7a" text-anchor="start" textLength="163" lengthAdjust="spacingAndGlyphs" style="mix-blend-mode:multiply">enesmagnets.pl</text>
<circle cx="399.5" cy="303" r="25.5" fill="none" stroke="#000" stroke-width="14"/><path d="M361.5,324 L437.5,324 Q446.5,324 449.0,332 L472.0,417.5 Q474.0,429.5 461.5,429.5 L337.5,429.5 Q325.0,429.5 327.0,417.5 L350.0,332 Q352.5,324 361.5,324 Z" fill="#000"/><g transform="translate(366.476,364.3) scale(0.8193,1)"><text x="0" y="0" font-family="Liberation Sans" font-size="32.122640170333604" font-weight="normal" fill="#e2cf33" style="font-kerning:none">*MAX</text></g><g transform="translate(342.619,416.274) scale(0.8200,1.3210)"><text x="0" y="0" font-family="Liberation Sans" font-size="42.59" font-weight="bold" fill="#22d3dd">~</text></g><path d="M377.30,383.10 V412.40 H371.60 V392.12 L365.60,394.67 V390.25 L372.30,383.10 Z" fill="#22d3dd"/><g transform="translate(376.774,412.4) scale(1.0816,1)"><text x="0" y="0" font-family="Liberation Sans" font-size="42.587934705464804" font-weight="bold" fill="#22d3dd" style="font-kerning:none">.</text></g><path d="M401.30,383.10 V412.40 H395.60 V392.12 L389.00,394.67 V390.25 L396.30,383.10 Z" fill="#22d3dd"/><g transform="translate(401.752,412.4) scale(0.8457,1)"><text x="0" y="0" font-family="Liberation Sans" font-size="42.587934705464804" font-weight="bold" fill="#22d3dd" style="font-kerning:none">7</text></g><g transform="translate(427.093,412.4) scale(0.8904,1)"><text x="0" y="0" font-family="Liberation Sans" font-size="25.116981132075455" font-weight="normal" fill="#22d3dd" style="font-kerning:none">kG</text></g>
<circle cx="899.5" cy="303" r="25.5" fill="none" stroke="#000" stroke-width="14"/><path d="M861.5,324 L937.5,324 Q946.5,324 949.0,332 L972.0,417.5 Q974.0,429.5 961.5,429.5 L837.5,429.5 Q825.0,429.5 827.0,417.5 L850.0,332 Q852.5,324 861.5,324 Z" fill="#000"/><g transform="translate(866.476,364.3) scale(0.8193,1)"><text x="0" y="0" font-family="Liberation Sans" font-size="32.122640170333604" font-weight="normal" fill="#e2cf33" style="font-kerning:none">*MAX</text></g><g transform="translate(838.017,416.374) scale(0.8743,1.3120)"><text x="0" y="0" font-family="Liberation Sans" font-size="42.88" font-weight="bold" fill="#22d3dd">~</text></g><g transform="translate(860.211,412.5) scale(0.7601,1)"><text x="0" y="0" font-family="Liberation Sans" font-size="42.878637331440736" font-weight="bold" fill="#22d3dd" style="font-kerning:none">0</text></g><g transform="translate(877.855,412.5) scale(0.9090,1)"><text x="0" y="0" font-family="Liberation Sans" font-size="42.878637331440736" font-weight="bold" fill="#22d3dd" style="font-kerning:none">.</text></g><g transform="translate(888.511,412.5) scale(0.7500,1)"><text x="0" y="0" font-family="Liberation Sans" font-size="42.878637331440736" font-weight="bold" fill="#22d3dd" style="font-kerning:none">5</text></g><g transform="translate(906.535,412.5) scale(0.7952,1)"><text x="0" y="0" font-family="Liberation Sans" font-size="42.878637331440736" font-weight="bold" fill="#22d3dd" style="font-kerning:none">7</text></g><g transform="translate(930.946,412.5) scale(0.9134,1)"><text x="0" y="0" font-family="Liberation Sans" font-size="25.254986522911068" font-weight="normal" fill="#22d3dd" style="font-kerning:none">kG</text></g>
<circle cx="399.5" cy="802" r="25.5" fill="none" stroke="#000" stroke-width="14"/><path d="M361.5,823 L437.5,823 Q446.5,823 449.0,831 L472.0,916.5 Q474.0,928.5 461.5,928.5 L337.5,928.5 Q325.0,928.5 327.0,916.5 L350.0,831 Q352.5,823 361.5,823 Z" fill="#000"/><g transform="translate(366.476,863.6) scale(0.8193,1)"><text x="0" y="0" font-family="Liberation Sans" font-size="32.122640170333604" font-weight="normal" fill="#e2cf33" style="font-kerning:none">*MAX</text></g><g transform="translate(338.780,914.274) scale(0.8461,1.3255)"><text x="0" y="0" font-family="Liberation Sans" font-size="42.44" font-weight="bold" fill="#22d3dd">~</text></g><g transform="translate(360.353,910.4) scale(0.8026,1)"><text x="0" y="0" font-family="Liberation Sans" font-size="42.442583392476834" font-weight="bold" fill="#22d3dd" style="font-kerning:none">0</text></g><g transform="translate(378.410,910.4) scale(0.9684,1)"><text x="0" y="0" font-family="Liberation Sans" font-size="42.442583392476834" font-weight="bold" fill="#22d3dd" style="font-kerning:none">.</text></g><g transform="translate(387.783,910.4) scale(0.8271,1)"><text x="0" y="0" font-family="Liberation Sans" font-size="42.442583392476834" font-weight="bold" fill="#22d3dd" style="font-kerning:none">2</text></g><g transform="translate(407.752,910.4) scale(0.7679,1)"><text x="0" y="0" font-family="Liberation Sans" font-size="42.442583392476834" font-weight="bold" fill="#22d3dd" style="font-kerning:none">3</text></g><g transform="translate(431.952,910.4) scale(0.9149,1)"><text x="0" y="0" font-family="Liberation Sans" font-size="25.116981132075377" font-weight="normal" fill="#22d3dd" style="font-kerning:none">kG</text></g>
<circle cx="899.5" cy="802" r="25.5" fill="none" stroke="#000" stroke-width="14"/><path d="M861.5,823 L937.5,823 Q946.5,823 949.0,831 L972.0,916.5 Q974.0,928.5 961.5,928.5 L837.5,928.5 Q825.0,928.5 827.0,916.5 L850.0,831 Q852.5,823 861.5,823 Z" fill="#000"/><g transform="translate(866.476,863.6) scale(0.8193,1)"><text x="0" y="0" font-family="Liberation Sans" font-size="32.122640170333604" font-weight="normal" fill="#e2cf33" style="font-kerning:none">*MAX</text></g><g transform="translate(841.380,914.674) scale(0.8263,1.2944)"><text x="0" y="0" font-family="Liberation Sans" font-size="43.46" font-weight="bold" fill="#22d3dd">~</text></g><g transform="translate(862.953,910.8) scale(0.7838,1)"><text x="0" y="0" font-family="Liberation Sans" font-size="43.46004258339244" font-weight="bold" fill="#22d3dd" style="font-kerning:none">0</text></g><g transform="translate(881.010,910.8) scale(0.9457,1)"><text x="0" y="0" font-family="Liberation Sans" font-size="43.46004258339244" font-weight="bold" fill="#22d3dd" style="font-kerning:none">.</text></g><path d="M901.00,880.90 V910.80 H895.30 V890.11 L889.40,892.71 V888.20 L896.00,880.90 Z" fill="#22d3dd"/><path d="M916.90,880.90 V910.80 H911.20 V890.11 L905.20,892.71 V888.20 L911.90,880.90 Z" fill="#22d3dd"/><g transform="translate(928.357,910.8) scale(0.8871,1)"><text x="0" y="0" font-family="Liberation Sans" font-size="25.807008086253276" font-weight="normal" fill="#22d3dd" style="font-kerning:none">kG</text></g>
<g transform="translate(112,102.6)" fill="none" stroke="#727272" style="mix-blend-mode:multiply"><path d="M0.7,2.3 Q0.7,0.8 2.2,0.8 H40.3 V9.7 H12.9 V19.7 H40.3 V32.9 H12.9 V42.2 H40.3 V51.8 H2.2 Q0.7,51.8 0.7,50.3 Z" stroke-width="2.2"/><line x1="48.5" y1="0.2" x2="103.8" y2="0.2" stroke-width="1.3"/><line x1="48.5" y1="5.1" x2="103.8" y2="5.1" stroke-width="1.3"/><line x1="48.5" y1="9.6" x2="103.8" y2="9.6" stroke-width="1.3"/><line x1="48.5" y1="43.0" x2="103.8" y2="43.0" stroke-width="1.3"/><line x1="48.5" y1="47.2" x2="103.8" y2="47.2" stroke-width="1.3"/><line x1="48.5" y1="51.6" x2="103.8" y2="51.6" stroke-width="1.3"/><path d="M52.3,34.1 V22 Q52.3,18.2 56,18.2 H58.3 Q62,18.2 62,22 V34.1" stroke-width="2.9" stroke-linecap="round"/><path d="M82,34.1 H75 Q71.5,34.1 71.5,30.5 V22 Q71.5,18.2 75.3,18.2 H77.8 Q81.5,18.2 81.5,22 V26 H71.5" stroke-width="2.9" stroke-linecap="round" stroke-linejoin="round"/><path d="M99.3,20 Q98.3,18.2 95,18.2 H93.3 Q90,18.2 90,21.6 Q90,25.2 94.5,25.8 Q99.5,26.5 99.5,30.3 Q99.5,34.1 95.3,34.1 H93 Q90,34.1 89.5,32" stroke-width="2.9" stroke-linecap="round" stroke-linejoin="round"/></g>
<g transform="translate(431,148)" fill="none" stroke="#727272" style="mix-blend-mode:multiply"><path d="M0.7,2.3 Q0.7,0.8 2.2,0.8 H40.3 V9.7 H12.9 V19.7 H40.3 V32.9 H12.9 V42.2 H40.3 V51.8 H2.2 Q0.7,51.8 0.7,50.3 Z" stroke-width="2.2"/><line x1="48.5" y1="0.2" x2="103.8" y2="0.2" stroke-width="1.3"/><line x1="48.5" y1="5.1" x2="103.8" y2="5.1" stroke-width="1.3"/><line x1="48.5" y1="9.6" x2="103.8" y2="9.6" stroke-width="1.3"/><line x1="48.5" y1="43.0" x2="103.8" y2="43.0" stroke-width="1.3"/><line x1="48.5" y1="47.2" x2="103.8" y2="47.2" stroke-width="1.3"/><line x1="48.5" y1="51.6" x2="103.8" y2="51.6" stroke-width="1.3"/><path d="M52.3,34.1 V22 Q52.3,18.2 56,18.2 H58.3 Q62,18.2 62,22 V34.1" stroke-width="2.9" stroke-linecap="round"/><path d="M82,34.1 H75 Q71.5,34.1 71.5,30.5 V22 Q71.5,18.2 75.3,18.2 H77.8 Q81.5,18.2 81.5,22 V26 H71.5" stroke-width="2.9" stroke-linecap="round" stroke-linejoin="round"/><path d="M99.3,20 Q98.3,18.2 95,18.2 H93.3 Q90,18.2 90,21.6 Q90,25.2 94.5,25.8 Q99.5,26.5 99.5,30.3 Q99.5,34.1 95.3,34.1 H93 Q90,34.1 89.5,32" stroke-width="2.9" stroke-linecap="round" stroke-linejoin="round"/></g>
<g transform="translate(440.4,401.8)" fill="none" stroke="#727272" style="mix-blend-mode:multiply"><path d="M0.7,2.3 Q0.7,0.8 2.2,0.8 H40.3 V9.7 H12.9 V19.7 H40.3 V32.9 H12.9 V42.2 H40.3 V51.8 H2.2 Q0.7,51.8 0.7,50.3 Z" stroke-width="2.2"/><line x1="48.5" y1="0.2" x2="103.8" y2="0.2" stroke-width="1.3"/><line x1="48.5" y1="5.1" x2="103.8" y2="5.1" stroke-width="1.3"/><line x1="48.5" y1="9.6" x2="103.8" y2="9.6" stroke-width="1.3"/><line x1="48.5" y1="43.0" x2="103.8" y2="43.0" stroke-width="1.3"/><line x1="48.5" y1="47.2" x2="103.8" y2="47.2" stroke-width="1.3"/><line x1="48.5" y1="51.6" x2="103.8" y2="51.6" stroke-width="1.3"/><path d="M52.3,34.1 V22 Q52.3,18.2 56,18.2 H58.3 Q62,18.2 62,22 V34.1" stroke-width="2.9" stroke-linecap="round"/><path d="M82,34.1 H75 Q71.5,34.1 71.5,30.5 V22 Q71.5,18.2 75.3,18.2 H77.8 Q81.5,18.2 81.5,22 V26 H71.5" stroke-width="2.9" stroke-linecap="round" stroke-linejoin="round"/><path d="M99.3,20 Q98.3,18.2 95,18.2 H93.3 Q90,18.2 90,21.6 Q90,25.2 94.5,25.8 Q99.5,26.5 99.5,30.3 Q99.5,34.1 95.3,34.1 H93 Q90,34.1 89.5,32" stroke-width="2.9" stroke-linecap="round" stroke-linejoin="round"/></g>
<g transform="translate(753.5,107.5)" fill="none" stroke="#727272" style="mix-blend-mode:multiply"><path d="M0.7,2.3 Q0.7,0.8 2.2,0.8 H40.3 V9.7 H12.9 V19.7 H40.3 V32.9 H12.9 V42.2 H40.3 V51.8 H2.2 Q0.7,51.8 0.7,50.3 Z" stroke-width="2.2"/><line x1="48.5" y1="0.2" x2="103.8" y2="0.2" stroke-width="1.3"/><line x1="48.5" y1="5.1" x2="103.8" y2="5.1" stroke-width="1.3"/><line x1="48.5" y1="9.6" x2="103.8" y2="9.6" stroke-width="1.3"/><line x1="48.5" y1="43.0" x2="103.8" y2="43.0" stroke-width="1.3"/><line x1="48.5" y1="47.2" x2="103.8" y2="47.2" stroke-width="1.3"/><line x1="48.5" y1="51.6" x2="103.8" y2="51.6" stroke-width="1.3"/><path d="M52.3,34.1 V22 Q52.3,18.2 56,18.2 H58.3 Q62,18.2 62,22 V34.1" stroke-width="2.9" stroke-linecap="round"/><path d="M82,34.1 H75 Q71.5,34.1 71.5,30.5 V22 Q71.5,18.2 75.3,18.2 H77.8 Q81.5,18.2 81.5,22 V26 H71.5" stroke-width="2.9" stroke-linecap="round" stroke-linejoin="round"/><path d="M99.3,20 Q98.3,18.2 95,18.2 H93.3 Q90,18.2 90,21.6 Q90,25.2 94.5,25.8 Q99.5,26.5 99.5,30.3 Q99.5,34.1 95.3,34.1 H93 Q90,34.1 89.5,32" stroke-width="2.9" stroke-linecap="round" stroke-linejoin="round"/></g>
<g transform="translate(766.5,359.3)" fill="none" stroke="#727272" style="mix-blend-mode:multiply"><path d="M0.7,2.3 Q0.7,0.8 2.2,0.8 H40.3 V9.7 H12.9 V19.7 H40.3 V32.9 H12.9 V42.2 H40.3 V51.8 H2.2 Q0.7,51.8 0.7,50.3 Z" stroke-width="2.2"/><line x1="48.5" y1="0.2" x2="103.8" y2="0.2" stroke-width="1.3"/><line x1="48.5" y1="5.1" x2="103.8" y2="5.1" stroke-width="1.3"/><line x1="48.5" y1="9.6" x2="103.8" y2="9.6" stroke-width="1.3"/><line x1="48.5" y1="43.0" x2="103.8" y2="43.0" stroke-width="1.3"/><line x1="48.5" y1="47.2" x2="103.8" y2="47.2" stroke-width="1.3"/><line x1="48.5" y1="51.6" x2="103.8" y2="51.6" stroke-width="1.3"/><path d="M52.3,34.1 V22 Q52.3,18.2 56,18.2 H58.3 Q62,18.2 62,22 V34.1" stroke-width="2.9" stroke-linecap="round"/><path d="M82,34.1 H75 Q71.5,34.1 71.5,30.5 V22 Q71.5,18.2 75.3,18.2 H77.8 Q81.5,18.2 81.5,22 V26 H71.5" stroke-width="2.9" stroke-linecap="round" stroke-linejoin="round"/><path d="M99.3,20 Q98.3,18.2 95,18.2 H93.3 Q90,18.2 90,21.6 Q90,25.2 94.5,25.8 Q99.5,26.5 99.5,30.3 Q99.5,34.1 95.3,34.1 H93 Q90,34.1 89.5,32" stroke-width="2.9" stroke-linecap="round" stroke-linejoin="round"/></g>
<g transform="translate(120,610)" fill="none" stroke="#727272" style="mix-blend-mode:multiply"><path d="M0.7,2.3 Q0.7,0.8 2.2,0.8 H40.3 V9.7 H12.9 V19.7 H40.3 V32.9 H12.9 V42.2 H40.3 V51.8 H2.2 Q0.7,51.8 0.7,50.3 Z" stroke-width="2.2"/><line x1="48.5" y1="0.2" x2="103.8" y2="0.2" stroke-width="1.3"/><line x1="48.5" y1="5.1" x2="103.8" y2="5.1" stroke-width="1.3"/><line x1="48.5" y1="9.6" x2="103.8" y2="9.6" stroke-width="1.3"/><line x1="48.5" y1="43.0" x2="103.8" y2="43.0" stroke-width="1.3"/><line x1="48.5" y1="47.2" x2="103.8" y2="47.2" stroke-width="1.3"/><line x1="48.5" y1="51.6" x2="103.8" y2="51.6" stroke-width="1.3"/><path d="M52.3,34.1 V22 Q52.3,18.2 56,18.2 H58.3 Q62,18.2 62,22 V34.1" stroke-width="2.9" stroke-linecap="round"/><path d="M82,34.1 H75 Q71.5,34.1 71.5,30.5 V22 Q71.5,18.2 75.3,18.2 H77.8 Q81.5,18.2 81.5,22 V26 H71.5" stroke-width="2.9" stroke-linecap="round" stroke-linejoin="round"/><path d="M99.3,20 Q98.3,18.2 95,18.2 H93.3 Q90,18.2 90,21.6 Q90,25.2 94.5,25.8 Q99.5,26.5 99.5,30.3 Q99.5,34.1 95.3,34.1 H93 Q90,34.1 89.5,32" stroke-width="2.9" stroke-linecap="round" stroke-linejoin="round"/></g>
<g transform="translate(439.5,635.5)" fill="none" stroke="#727272" style="mix-blend-mode:multiply"><path d="M0.7,2.3 Q0.7,0.8 2.2,0.8 H40.3 V9.7 H12.9 V19.7 H40.3 V32.9 H12.9 V42.2 H40.3 V51.8 H2.2 Q0.7,51.8 0.7,50.3 Z" stroke-width="2.2"/><line x1="48.5" y1="0.2" x2="103.8" y2="0.2" stroke-width="1.3"/><line x1="48.5" y1="5.1" x2="103.8" y2="5.1" stroke-width="1.3"/><line x1="48.5" y1="9.6" x2="103.8" y2="9.6" stroke-width="1.3"/><line x1="48.5" y1="43.0" x2="103.8" y2="43.0" stroke-width="1.3"/><line x1="48.5" y1="47.2" x2="103.8" y2="47.2" stroke-width="1.3"/><line x1="48.5" y1="51.6" x2="103.8" y2="51.6" stroke-width="1.3"/><path d="M52.3,34.1 V22 Q52.3,18.2 56,18.2 H58.3 Q62,18.2 62,22 V34.1" stroke-width="2.9" stroke-linecap="round"/><path d="M82,34.1 H75 Q71.5,34.1 71.5,30.5 V22 Q71.5,18.2 75.3,18.2 H77.8 Q81.5,18.2 81.5,22 V26 H71.5" stroke-width="2.9" stroke-linecap="round" stroke-linejoin="round"/><path d="M99.3,20 Q98.3,18.2 95,18.2 H93.3 Q90,18.2 90,21.6 Q90,25.2 94.5,25.8 Q99.5,26.5 99.5,30.3 Q99.5,34.1 95.3,34.1 H93 Q90,34.1 89.5,32" stroke-width="2.9" stroke-linecap="round" stroke-linejoin="round"/></g>
<g transform="translate(120,841)" fill="none" stroke="#727272" style="mix-blend-mode:multiply"><path d="M0.7,2.3 Q0.7,0.8 2.2,0.8 H40.3 V9.7 H12.9 V19.7 H40.3 V32.9 H12.9 V42.2 H40.3 V51.8 H2.2 Q0.7,51.8 0.7,50.3 Z" stroke-width="2.2"/><line x1="48.5" y1="0.2" x2="103.8" y2="0.2" stroke-width="1.3"/><line x1="48.5" y1="5.1" x2="103.8" y2="5.1" stroke-width="1.3"/><line x1="48.5" y1="9.6" x2="103.8" y2="9.6" stroke-width="1.3"/><line x1="48.5" y1="43.0" x2="103.8" y2="43.0" stroke-width="1.3"/><line x1="48.5" y1="47.2" x2="103.8" y2="47.2" stroke-width="1.3"/><line x1="48.5" y1="51.6" x2="103.8" y2="51.6" stroke-width="1.3"/><path d="M52.3,34.1 V22 Q52.3,18.2 56,18.2 H58.3 Q62,18.2 62,22 V34.1" stroke-width="2.9" stroke-linecap="round"/><path d="M82,34.1 H75 Q71.5,34.1 71.5,30.5 V22 Q71.5,18.2 75.3,18.2 H77.8 Q81.5,18.2 81.5,22 V26 H71.5" stroke-width="2.9" stroke-linecap="round" stroke-linejoin="round"/><path d="M99.3,20 Q98.3,18.2 95,18.2 H93.3 Q90,18.2 90,21.6 Q90,25.2 94.5,25.8 Q99.5,26.5 99.5,30.3 Q99.5,34.1 95.3,34.1 H93 Q90,34.1 89.5,32" stroke-width="2.9" stroke-linecap="round" stroke-linejoin="round"/></g>
<g transform="translate(440.5,838.4)" fill="none" stroke="#727272" style="mix-blend-mode:multiply"><path d="M0.7,2.3 Q0.7,0.8 2.2,0.8 H40.3 V9.7 H12.9 V19.7 H40.3 V32.9 H12.9 V42.2 H40.3 V51.8 H2.2 Q0.7,51.8 0.7,50.3 Z" stroke-width="2.2"/><line x1="48.5" y1="0.2" x2="103.8" y2="0.2" stroke-width="1.3"/><line x1="48.5" y1="5.1" x2="103.8" y2="5.1" stroke-width="1.3"/><line x1="48.5" y1="9.6" x2="103.8" y2="9.6" stroke-width="1.3"/><line x1="48.5" y1="43.0" x2="103.8" y2="43.0" stroke-width="1.3"/><line x1="48.5" y1="47.2" x2="103.8" y2="47.2" stroke-width="1.3"/><line x1="48.5" y1="51.6" x2="103.8" y2="51.6" stroke-width="1.3"/><path d="M52.3,34.1 V22 Q52.3,18.2 56,18.2 H58.3 Q62,18.2 62,22 V34.1" stroke-width="2.9" stroke-linecap="round"/><path d="M82,34.1 H75 Q71.5,34.1 71.5,30.5 V22 Q71.5,18.2 75.3,18.2 H77.8 Q81.5,18.2 81.5,22 V26 H71.5" stroke-width="2.9" stroke-linecap="round" stroke-linejoin="round"/><path d="M99.3,20 Q98.3,18.2 95,18.2 H93.3 Q90,18.2 90,21.6 Q90,25.2 94.5,25.8 Q99.5,26.5 99.5,30.3 Q99.5,34.1 95.3,34.1 H93 Q90,34.1 89.5,32" stroke-width="2.9" stroke-linecap="round" stroke-linejoin="round"/></g>
<g transform="translate(762.5,608.5)" fill="none" stroke="#727272" style="mix-blend-mode:multiply"><path d="M0.7,2.3 Q0.7,0.8 2.2,0.8 H40.3 V9.7 H12.9 V19.7 H40.3 V32.9 H12.9 V42.2 H40.3 V51.8 H2.2 Q0.7,51.8 0.7,50.3 Z" stroke-width="2.2"/><line x1="48.5" y1="0.2" x2="103.8" y2="0.2" stroke-width="1.3"/><line x1="48.5" y1="5.1" x2="103.8" y2="5.1" stroke-width="1.3"/><line x1="48.5" y1="9.6" x2="103.8" y2="9.6" stroke-width="1.3"/><line x1="48.5" y1="43.0" x2="103.8" y2="43.0" stroke-width="1.3"/><line x1="48.5" y1="47.2" x2="103.8" y2="47.2" stroke-width="1.3"/><line x1="48.5" y1="51.6" x2="103.8" y2="51.6" stroke-width="1.3"/><path d="M52.3,34.1 V22 Q52.3,18.2 56,18.2 H58.3 Q62,18.2 62,22 V34.1" stroke-width="2.9" stroke-linecap="round"/><path d="M82,34.1 H75 Q71.5,34.1 71.5,30.5 V22 Q71.5,18.2 75.3,18.2 H77.8 Q81.5,18.2 81.5,22 V26 H71.5" stroke-width="2.9" stroke-linecap="round" stroke-linejoin="round"/><path d="M99.3,20 Q98.3,18.2 95,18.2 H93.3 Q90,18.2 90,21.6 Q90,25.2 94.5,25.8 Q99.5,26.5 99.5,30.3 Q99.5,34.1 95.3,34.1 H93 Q90,34.1 89.5,32" stroke-width="2.9" stroke-linecap="round" stroke-linejoin="round"/></g>
<g transform="translate(761.7,841.4)" fill="none" stroke="#727272" style="mix-blend-mode:multiply"><path d="M0.7,2.3 Q0.7,0.8 2.2,0.8 H40.3 V9.7 H12.9 V19.7 H40.3 V32.9 H12.9 V42.2 H40.3 V51.8 H2.2 Q0.7,51.8 0.7,50.3 Z" stroke-width="2.2"/><line x1="48.5" y1="0.2" x2="103.8" y2="0.2" stroke-width="1.3"/><line x1="48.5" y1="5.1" x2="103.8" y2="5.1" stroke-width="1.3"/><line x1="48.5" y1="9.6" x2="103.8" y2="9.6" stroke-width="1.3"/><line x1="48.5" y1="43.0" x2="103.8" y2="43.0" stroke-width="1.3"/><line x1="48.5" y1="47.2" x2="103.8" y2="47.2" stroke-width="1.3"/><line x1="48.5" y1="51.6" x2="103.8" y2="51.6" stroke-width="1.3"/><path d="M52.3,34.1 V22 Q52.3,18.2 56,18.2 H58.3 Q62,18.2 62,22 V34.1" stroke-width="2.9" stroke-linecap="round"/><path d="M82,34.1 H75 Q71.5,34.1 71.5,30.5 V22 Q71.5,18.2 75.3,18.2 H77.8 Q81.5,18.2 81.5,22 V26 H71.5" stroke-width="2.9" stroke-linecap="round" stroke-linejoin="round"/><path d="M99.3,20 Q98.3,18.2 95,18.2 H93.3 Q90,18.2 90,21.6 Q90,25.2 94.5,25.8 Q99.5,26.5 99.5,30.3 Q99.5,34.1 95.3,34.1 H93 Q90,34.1 89.5,32" stroke-width="2.9" stroke-linecap="round" stroke-linejoin="round"/></g>
<text x="24.6" y="474.7" font-family="Liberation Sans" font-size="19.2" textLength="450" lengthAdjust="spacingAndGlyphs" fill="#000">*DIE BESTE MINDESTDICKE DER PLATTE BETRÄGT <tspan font-weight="bold">1 mm.</tspan></text>
<text x="524.6" y="474.7" font-family="Liberation Sans" font-size="19.2" textLength="450" lengthAdjust="spacingAndGlyphs" fill="#000">*DIE BESTE MINDESTDICKE DER PLATTE BETRÄGT <tspan font-weight="bold">1 mm</tspan>.</text>
<text x="24.6" y="973.7" font-family="Liberation Sans" font-size="19.2" textLength="450" lengthAdjust="spacingAndGlyphs" fill="#000">*DIE BESTE MINDESTDICKE DER PLATTE BETRÄGT <tspan font-weight="bold">1 mm.</tspan></text>
<text x="524.6" y="973.7" font-family="Liberation Sans" font-size="19.2" textLength="450" lengthAdjust="spacingAndGlyphs" fill="#000">*DIE BESTE MINDESTDICKE DER PLATTE BETRÄGT <tspan font-weight="bold">1 mm.</tspan></text>
<g stroke="#111" fill="none"><line x1="915.5" y1="45" x2="915.5" y2="261" stroke-width="1.6"/><line x1="893" y1="129.6" x2="931.5" y2="129.6" stroke-width="1.8"/><line x1="845" y1="157.4" x2="936" y2="157.4" stroke-width="1.8"/></g><polygon points="908,108 923.2,108 915.5,129.5" fill="#222"/><polygon points="908.8,183 924,183 915.5,157.5" fill="#222"/><g transform="translate(963.8,234.4) rotate(-90) translate(-0.790,0) scale(0.6793,1)"><text x="0" y="0" font-family="Liberation Sans" font-size="25.6" font-weight="normal" fill="#000" style="font-kerning:none">SPALT</text></g><g transform="translate(963.8,175.6) rotate(-90) translate(-0.762,0) scale(0.7521,1)"><text x="0" y="0" font-family="Liberation Sans" font-size="25.6" font-weight="bold" fill="#000" style="font-kerning:none">0.4 mm</text></g><g stroke="#111" fill="none"><line x1="711.3" y1="529.8" x2="711.3" y2="702" stroke-width="1.4"/><line x1="739.3" y1="525.4" x2="739.3" y2="566" stroke-width="1.4"/><line x1="618.5" y1="545.5" x2="833" y2="545.5" stroke-width="1.6"/></g><polygon points="690,537.5 690,553 711.3,545.2" fill="#222"/><polygon points="765.7,537.5 765.7,553 739.3,545.2" fill="#222"/><g transform="translate(785.397,536.2) scale(0.7754,1)"><text x="0" y="0" font-family="Liberation Sans" font-size="22.8" font-weight="normal" fill="#000" style="font-kerning:none">SPALT</text></g><g transform="translate(852.963,536.2) scale(0.8169,1)"><text x="0" y="0" font-family="Liberation Sans" font-size="22.8" font-weight="bold" fill="#000" style="font-kerning:none">0.4 mm</text></g>
</svg></body></html>
